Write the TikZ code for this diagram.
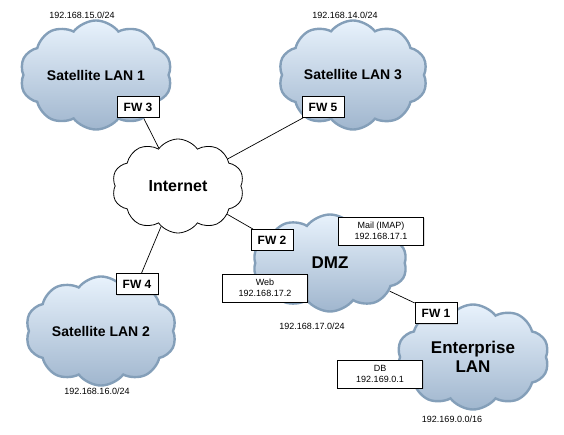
\documentclass[tikz,border=0pt]{standalone}
\usepackage{fontspec}
\setmainfont{Liberation Sans}
\usetikzlibrary{shapes.symbols,shadows}
\pgfdeclarelayer{bg}
\pgfsetlayers{bg,main}
\definecolor{cloudtop}{HTML}{E8F2FC}
\definecolor{cloudbot}{HTML}{A0B6CE}
\definecolor{cloudedge}{HTML}{849FB9}
\begin{document}
\begin{tikzpicture}[x=1pt,y=-1pt,
  lan/.style={cloud, cloud puffs=10, cloud puff arc=105, aspect=1.5,
    draw=cloudedge, line width=2.4pt, top color=cloudtop, bottom color=cloudbot,
    inner sep=0pt, align=center},
  inet/.style={cloud, cloud puffs=10, cloud puff arc=110, aspect=1.4,
    draw=black, line width=0.8pt, fill=white, inner sep=0pt,
    font=\fontsize{16}{18}\selectfont\bfseries},
  small/.style={font=\fontsize{14}{16}\selectfont\bfseries},
  big/.style={font=\fontsize{17}{19}\selectfont\bfseries},
  fw/.style={draw, line width=0.8pt, fill=white, inner sep=0pt,
    minimum width=42pt, minimum height=21pt,
    font=\fontsize{12}{14}\selectfont\bfseries,
    drop shadow={opacity=0.25, shadow xshift=1pt, shadow yshift=-1pt}},
  host/.style={draw, line width=0.6pt, fill=white, inner sep=0pt, align=center,
    minimum width=85pt, minimum height=28pt, font=\fontsize{9}{11}\selectfont,
    drop shadow={opacity=0.25, shadow xshift=1pt, shadow yshift=-1pt}},
  ip/.style={font=\fontsize{9}{11}\selectfont, inner sep=0pt},
  link/.style={draw=black, line width=0.7pt}]
\useasboundingbox (0,0) rectangle (564,435);

% clouds
\node[lan, small, minimum width=152pt, minimum height=101pt] (sat1) at (96,75) {Satellite LAN 1};
\node[lan, small, minimum width=149pt, minimum height=101pt] (sat3) at (353,75) {Satellite LAN 3};
\node[lan, small, minimum width=151pt, minimum height=102pt] (sat2) at (101,331) {Satellite LAN 2};
\node[lan, big, minimum width=154pt, minimum height=97pt] (dmz) at (330,263) {DMZ};
\node[lan, big, minimum width=152pt, minimum height=105pt] (ent) at (473,357) {Enterprise\\LAN};
\node[inet, minimum width=132pt, minimum height=94pt] (inet) at (178,186) {Internet};

% subnet labels
\node[ip] (ip15) at (82,15) {192.168.15.0/24};
\node[ip] (ip14) at (345,15) {192.168.14.0/24};
\node[ip] (ip16) at (97,391) {192.168.16.0/24};
\node[ip] (ip17) at (312,326) {192.168.17.0/24};
\node[ip] (ip169) at (452,419) {192.169.0.0/16};

% firewalls
\node[fw] (fw3) at (138,107) {FW 3};
\node[fw] (fw5) at (323,107) {FW 5};
\node[fw] (fw4) at (137,284) {FW 4};
\node[fw] (fw2) at (272,240) {FW 2};
\node[fw] (fw1) at (436,313) {FW 1};

% hosts
\node[host] (mail) at (381,231) {Mail (IMAP)\\192.168.17.1};
\node[host] (web) at (265,288) {Web\\192.168.17.2};
\node[host] (db) at (380,374) {DB\\192.169.0.1};

% connectors
\begin{pgfonlayer}{bg}
\draw[link] (inet) -- (fw3);
\draw[link] (inet) -- (fw5);
\draw[link] (inet) -- (fw4);
\draw[link] (inet) -- (fw2);
\draw[link] (dmz) -- (fw1);
\end{pgfonlayer}
\end{tikzpicture}
\end{document}
